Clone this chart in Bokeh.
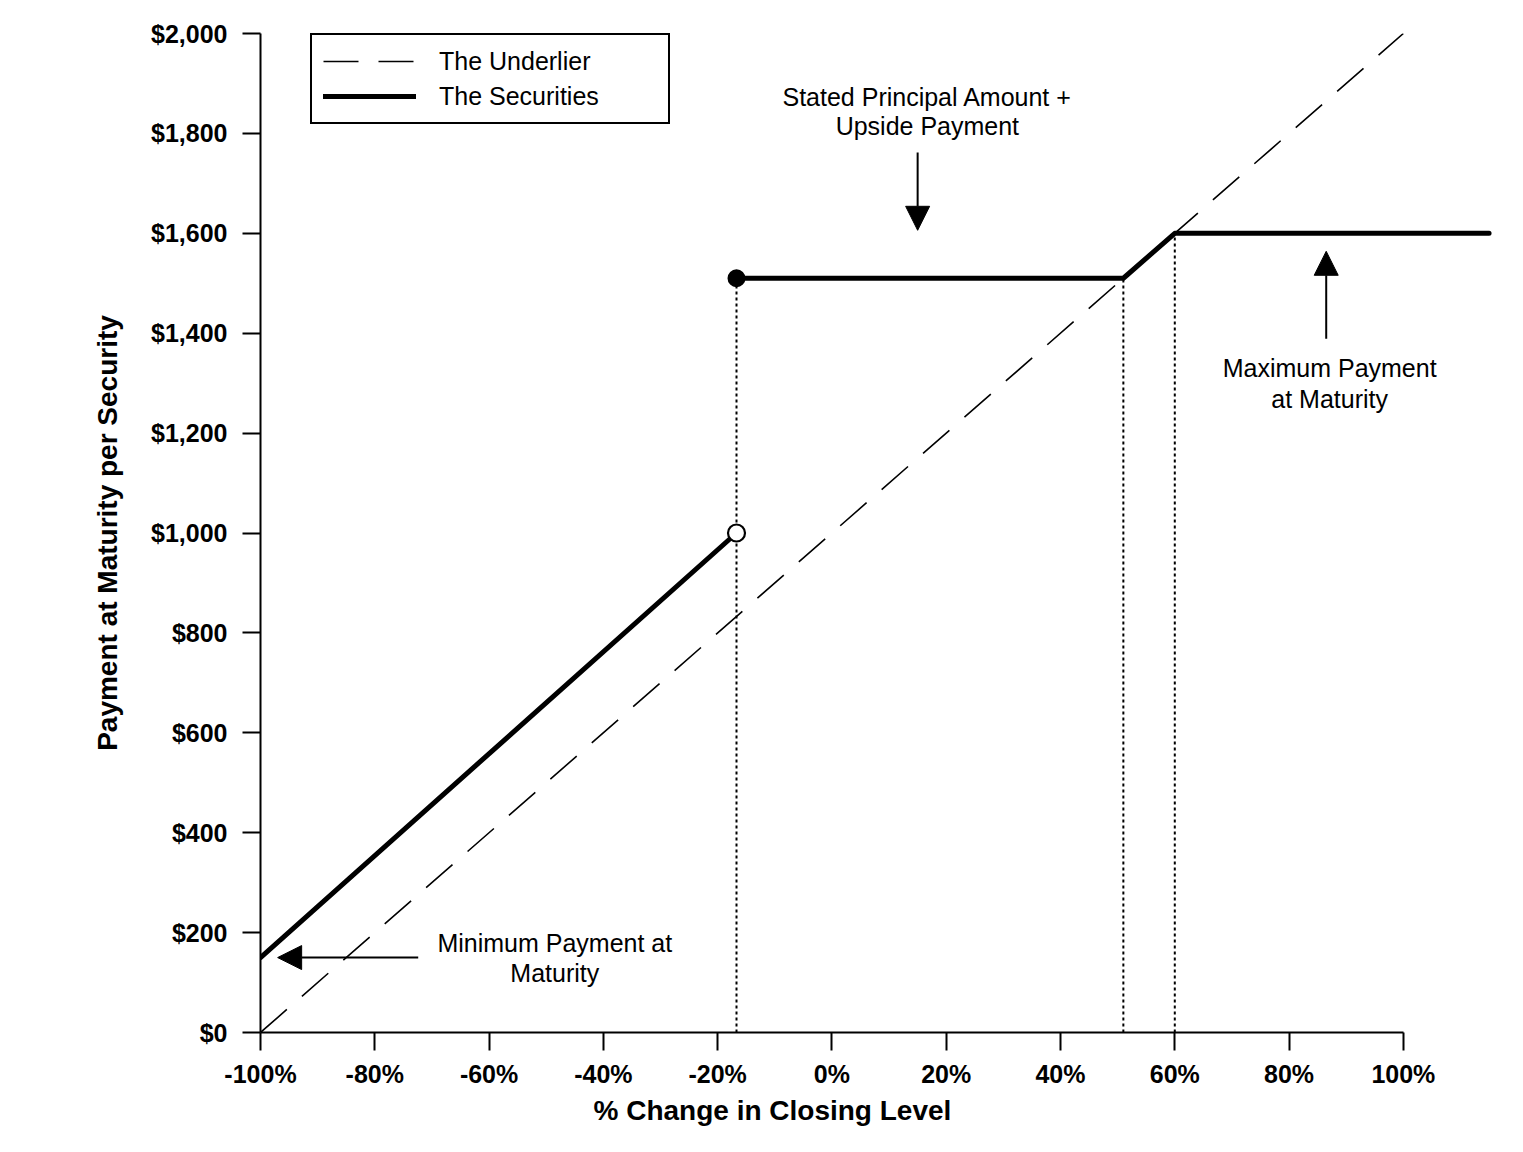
from bokeh.plotting import figure
from bokeh.models import (Range1d, FixedTicker, NumeralTickFormatter, PrintfTickFormatter,
                          Legend, LegendItem, Arrow, NormalHead, Title, ColumnDataSource)
from bokeh.core.properties import value
from bokeh.embed import file_html
from bokeh.resources import INLINE

# ---- data ----
x_ticks = [-100, -80, -60, -40, -20, 0, 20, 40, 60, 80, 100]
y_ticks = [0, 200, 400, 600, 800, 1000, 1200, 1400, 1600, 1800, 2000]

underlier_x = [-100, 100]
underlier_y = [0, 2000]

securities_low_x = [-100, -16.7]
securities_low_y = [150, 1000]

securities_high_x = [-16.7, 51, 60, 115]
securities_high_y = [1510, 1510, 1600, 1600]

ref_x = [-16.7, 51, 60]
ref_top = [1510, 1510, 1600]

# annotation text
ann_text = ["Stated Principal Amount +", "Upside Payment",
            "Maximum Payment", "at Maturity",
            "Minimum Payment at", "Maturity"]
ann_x = [16.7, 16.7, 87.1, 87.1, -48.5, -48.5]
ann_y = [1872, 1814, 1331, 1269, 180, 120]

# arrows: (x_start, y_start, x_end, y_end)
arrows = [(15.0, 1762, 15.0, 1606),
          (86.5, 1389, 86.5, 1564),
          (-72.4, 150, -97.0, 150)]

FONT = "Liberation Sans"

p = figure(frame_width=1240, frame_height=999,
           min_border_left=260, min_border_right=10,
           min_border_top=33, min_border_bottom=110,
           x_range=Range1d(-100, 117), y_range=Range1d(0, 2000),
           output_backend="svg", toolbar_location=None)
p.outline_line_color = None
p.xgrid.visible = False
p.ygrid.visible = False
p.background_fill_color = "white"
p.border_fill_color = "white"

# axes
for ax in (p.xaxis[0], p.yaxis[0]):
    ax.axis_line_width = 2
    ax.axis_line_color = "black"
    ax.major_tick_line_width = 2
    ax.major_tick_line_color = "black"
    ax.major_tick_out = 18
    ax.major_tick_in = 0
    ax.minor_tick_line_color = None
    ax.major_label_text_font = FONT
    ax.major_label_text_font_style = "bold"
    ax.major_label_text_font_size = "25px"
    ax.major_label_text_color = "black"

p.xaxis[0].major_label_standoff = 9
p.yaxis[0].major_label_standoff = 15

p.xaxis[0].ticker = FixedTicker(ticks=x_ticks)
p.xaxis[0].formatter = PrintfTickFormatter(format="%d%%")
p.xaxis[0].bounds = (x_ticks[0], x_ticks[-1])

p.yaxis[0].ticker = FixedTicker(ticks=y_ticks)
p.yaxis[0].formatter = NumeralTickFormatter(format="$0,0")
p.yaxis[0].bounds = (y_ticks[0], y_ticks[-1])
p.yaxis[0].axis_label = "Payment at Maturity per Security"
p.yaxis[0].axis_label_text_font = FONT
p.yaxis[0].axis_label_text_font_style = "bold"
p.yaxis[0].axis_label_text_font_size = "28px"
p.yaxis[0].axis_label_text_color = "black"
p.yaxis[0].axis_label_standoff = 25

# reference dotted lines
p.segment(x0=ref_x, y0=[0] * len(ref_x), x1=ref_x, y1=ref_top,
          line_color="black", line_width=2, line_dash="3 3")

# underlier
r_und = p.line(underlier_x, underlier_y, line_color="black", line_width=1.6,
               line_dash="35 20")

# securities
r_sec = p.line(securities_low_x, securities_low_y, line_color="black", line_width=5,
               line_cap="round")
p.line(securities_high_x, securities_high_y, line_color="black", line_width=5,
       line_cap="round", line_join="round")

# markers
p.scatter([securities_high_x[0]], [securities_high_y[0]], size=16, marker="circle",
          fill_color="black", line_color="black", line_width=2)
p.scatter([securities_low_x[-1]], [securities_low_y[-1]], size=17, marker="circle",
          fill_color="white", line_color="black", line_width=2.2)

# arrows
for (xs, ys, xe, ye) in arrows:
    p.add_layout(Arrow(x_start=xs, y_start=ys, x_end=xe, y_end=ye,
                       line_color="black", line_width=2,
                       end=NormalHead(size=24, fill_color="black", line_color="black",
                                      line_width=1)))

# annotation texts
src = ColumnDataSource(dict(x=ann_x, y=ann_y, t=ann_text))
p.text(x="x", y="y", text="t", source=src, text_align="center", text_baseline="middle",
       text_font=value(FONT), text_font_size="25px", text_color="black")

# x axis title (positioned as in reference, left of the frame centre)
p.add_layout(Title(text="% Change in Closing Level", align="left", offset=333,
                   text_font=FONT, text_font_style="bold", text_font_size="28px",
                   text_color="black", standoff=4), "below")

# legend
legend = Legend(items=[LegendItem(label="The Underlier", renderers=[r_und]),
                       LegendItem(label="The Securities", renderers=[r_sec])],
                location=(50, 908))
legend.label_text_font = FONT
legend.label_text_font_size = "25px"
legend.label_text_color = "black"
legend.glyph_width = 93
legend.glyph_height = 30
legend.label_height = 30
legend.label_width = 218
legend.label_standoff = 23
legend.padding = 11
legend.spacing = 5
legend.margin = 0
legend.border_line_color = "black"
legend.border_line_alpha = 1
legend.border_line_width = 2
legend.background_fill_color = "white"
legend.background_fill_alpha = 1
p.add_layout(legend)

open("out.html", "w").write(file_html(p, INLINE))
